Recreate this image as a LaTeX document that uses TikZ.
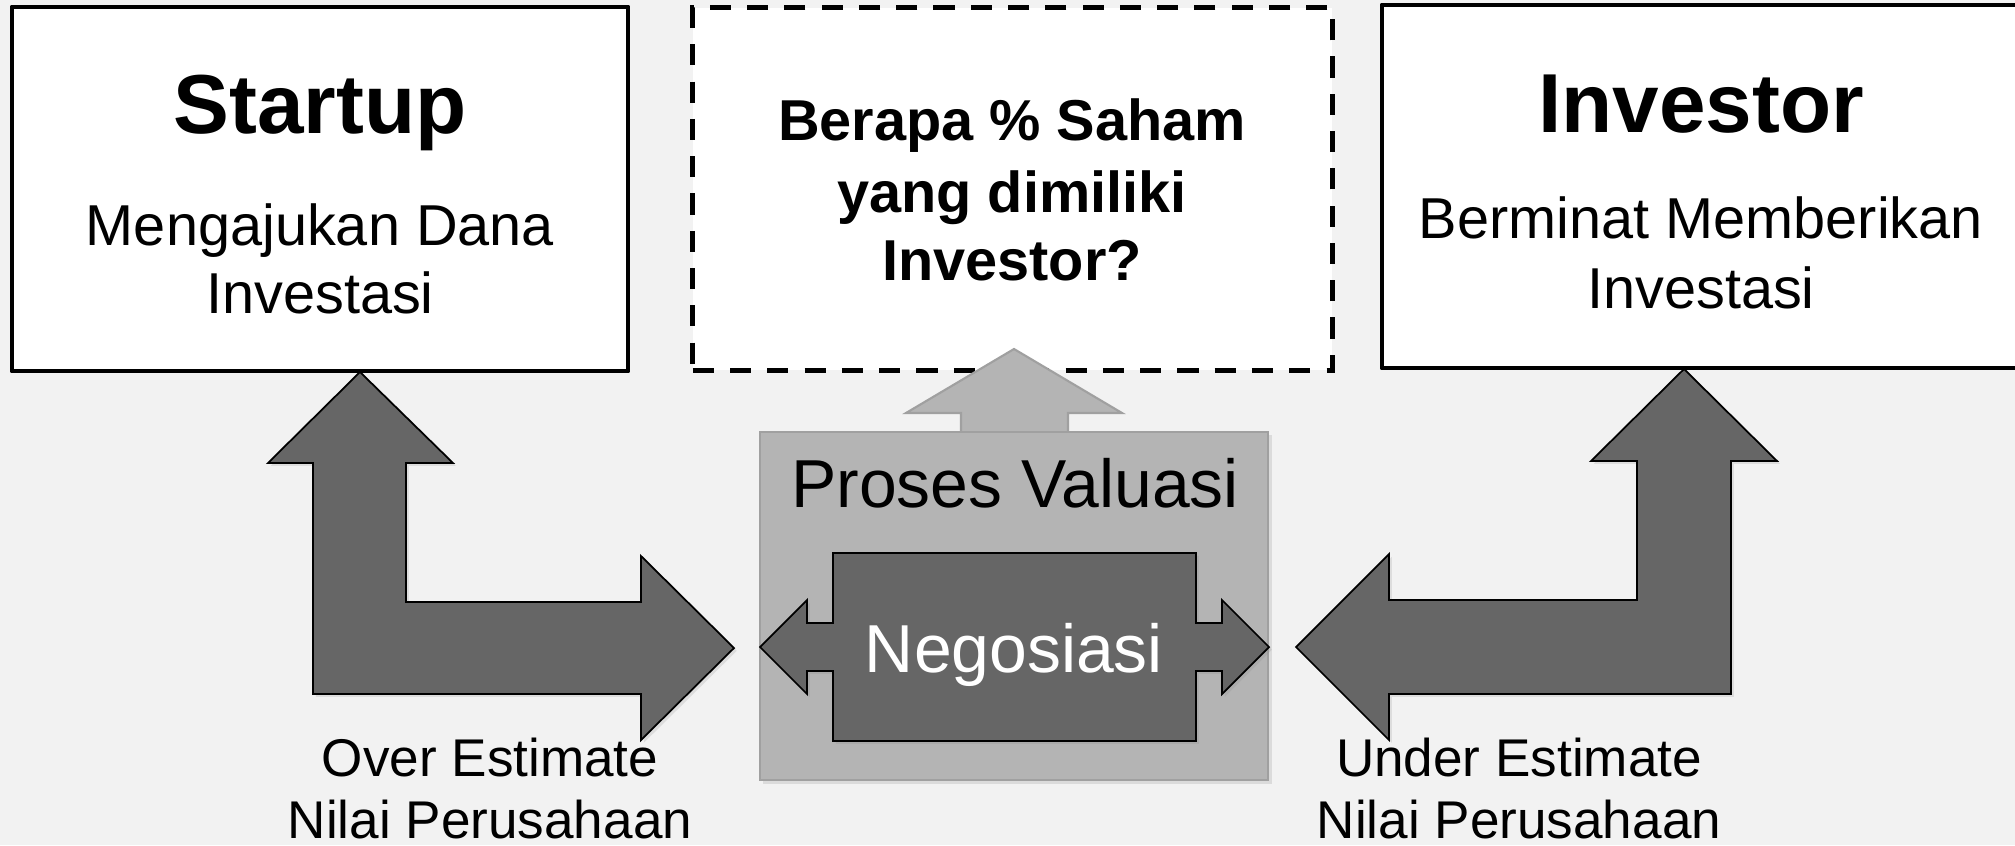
\documentclass[tikz,border=0pt]{standalone}
\usepackage{fontspec}
\setmainfont{Liberation Sans}
\usetikzlibrary{shadows}
\definecolor{bgc}{HTML}{F2F2F2}
\definecolor{darkg}{HTML}{666666}
\definecolor{lightg}{HTML}{B4B4B4}
\definecolor{lightedge}{HTML}{A0A0A0}
\begin{document}
\begin{tikzpicture}[x=0.01cm,y=-0.01cm,
  box/.style={draw=black, line width=1.3pt, fill=white, line join=round, inner sep=0pt},
  dbox/.style={box, line width=1.45pt, dash pattern=on 6pt off 4.6pt, line join=miter},
  blockarrow/.style={draw=black, line width=0.5pt, fill=darkg, line join=miter,
    drop shadow={shadow xshift=0.8pt, shadow yshift=-0.8pt, opacity=0.18}},
  lightarrow/.style={draw=lightedge, line width=0.6pt, fill=lightg, line join=miter},
  procbox/.style={draw=lightedge, line width=0.6pt, fill=lightg, inner sep=0pt,
    drop shadow={shadow xshift=1pt, shadow yshift=-1pt, opacity=0.2}},
  txt/.style={inner sep=0pt, anchor=base},
  big/.style={txt, font=\fontsize{23.8}{28}\selectfont\bfseries},
  mid/.style={txt, font=\fontsize{16.4}{20}\selectfont},
  midb/.style={txt, font=\fontsize{16.4}{20}\selectfont\bfseries},
  proc/.style={txt, font=\fontsize{19.3}{23}\selectfont},
  lab/.style={txt, font=\fontsize{15.1}{18}\selectfont}
]
\fill[bgc] (0,0) rectangle (2015,845);
\useasboundingbox (0,0) rectangle (2015,845);

% top boxes
\node[box, minimum width=6.16cm, minimum height=3.64cm] (startup) at (320,189) {};
\node[dbox, minimum width=6.39cm, minimum height=3.62cm] (question) at (1012.5,189) {};
\node[box, minimum width=6.40cm, minimum height=3.63cm] (investor) at (1702,186.5) {};

\node[big] (t1) at (320,133) {Startup};
\node[mid] (t2) at (320,245) {Mengajukan Dana};
\node[mid] (t3) at (320,313) {Investasi};

\node[midb] (q1) at (1012,140) {Berapa \% Saham};
\node[midb] (q2) at (1012,212) {yang dimiliki};
\node[midb] (q3) at (1012,280) {Investor?};

\node[big] (i1) at (1701,132) {Investor};
\node[mid] (i2) at (1701,238) {Berminat Memberikan};
\node[mid] (i3) at (1701,308) {Investasi};

% light up arrow from valuation box to question box
\path[lightarrow] (1014,349) -- (1122,413) -- (1068,413) -- (1068,445)
  -- (961,445) -- (961,413) -- (906,413) -- cycle;

% valuation box
\node[procbox, minimum width=5.08cm, minimum height=3.48cm] (proc) at (1014,606) {};
\node[proc] (p1) at (1015,507) {Proses Valuasi};

% negotiation double arrow
\path[blockarrow] (833,553) -- (1196,553) -- (1196,623) -- (1222,623) -- (1222,600)
  -- (1269,647) -- (1222,694) -- (1222,671) -- (1196,671) -- (1196,741)
  -- (833,741) -- (833,671) -- (807,671) -- (807,694) -- (760,647)
  -- (807,600) -- (807,623) -- (833,623) -- cycle;
\node[proc, text=white] (n1) at (1014,672) {Negosiasi};

% left L arrow
\path[blockarrow] (360,372) -- (453,463) -- (406,463) -- (406,602) -- (641,602)
  -- (641,556) -- (734,648) -- (641,740) -- (641,694) -- (313,694)
  -- (313,463) -- (268,463) -- cycle;

% right L arrow
\path[blockarrow] (1684,369) -- (1777,461) -- (1731,461) -- (1731,694) -- (1389,694)
  -- (1389,740) -- (1296,647) -- (1389,554) -- (1389,600) -- (1637,600)
  -- (1637,461) -- (1591,461) -- cycle;

% labels
\node[lab] (o1) at (490,776) {Over Estimate};
\node[lab] (o2) at (490,838) {Nilai Perusahaan};
\node[lab] (u1) at (1519,776) {Under Estimate};
\node[lab] (u2) at (1519,838) {Nilai Perusahaan};
\end{tikzpicture}
\end{document}
